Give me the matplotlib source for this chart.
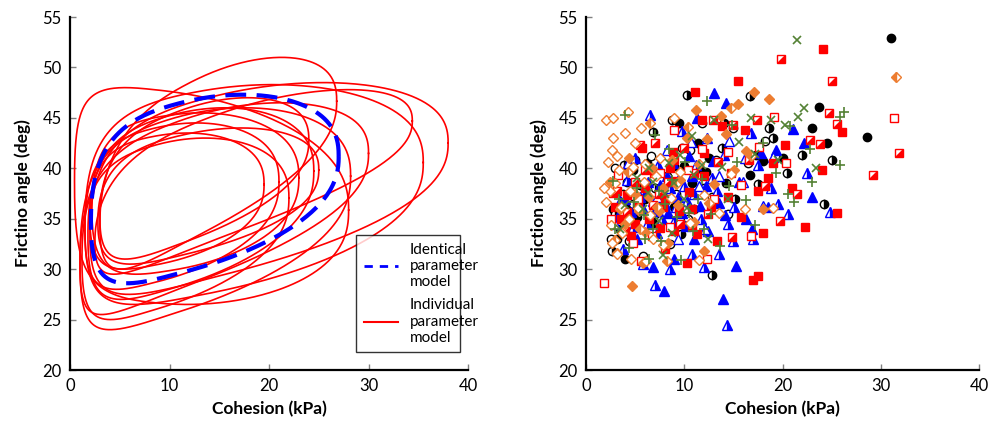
import numpy as np
import matplotlib
matplotlib.use("Agg")
import matplotlib.pyplot as plt
from matplotlib.lines import Line2D

plt.rcParams['font.family'] = ['Lato', 'DejaVu Sans']

# ---- left panel: contour parameters (cohesion range, friction range, correlation)
ident_cmin, ident_cmax, ident_pmin, ident_pmax, ident_rho = 2.1, 27.0, 28.6, 47.3, 0.36

ind_cmin = [2.0, 1.5, 2.5, 3.0, 1.0, 0.45, 1.5, 2.2, 1.8, 2.8, 1.2, 2.0, 1.0, 3.0]
ind_cmax = [38.0, 35.5, 34.4, 26.8, 28.2, 28.0, 21.0, 23.0, 24.5, 25.0, 22.0, 19.5, 30.0, 24.0]
ind_pmin = [27.5, 26.5, 29.5, 30.0, 24.0, 26.5, 28.0, 29.5, 27.0, 30.5, 25.0, 30.0, 25.5, 31.0]
ind_pmax = [48.5, 48.3, 47.8, 51.0, 46.0, 48.0, 44.5, 45.5, 46.0, 44.0, 43.0, 43.5, 46.5, 47.0]
ind_rho = [0.45, 0.3, 0.7, 0.62, 0.4, -0.13, 0.3, 0.2, 0.35, 0.4, 0.35, 0.25, 0.55, 0.5]

# ---- right panel: measured cohesion / friction angle pairs
blk_fill_c = [31.0, 28.6, 23.7, 23.0, 24.5, 17.3, 12.5, 10.0, 8.5, 6.0, 4.5, 3.5, 9.5, 7.3, 5.2, 11.4, 14.2, 16.7, 18.0, 6.8, 3.2, 2.8, 9.0, 12.2, 20.0, 4.0, 5.5, 7.8, 10.8, 4.8]
blk_fill_p = [52.9, 43.1, 46.1, 44.0, 42.5, 41.3, 41.0, 40.2, 38.5, 37.0, 36.2, 34.0, 44.5, 39.6, 35.2, 42.5, 38.5, 39.3, 40.7, 34.6, 33.0, 36.0, 36.2, 39.6, 41.0, 31.0, 36.4, 37.8, 38.5, 39.8]
blk_half_c = [16.7, 25.0, 19.0, 10.3, 8.8, 6.8, 11.5, 15.2, 17.5, 13.8, 3.9, 3.0, 5.5, 7.8, 9.7, 12.8, 22.0, 24.2, 18.6, 4.4, 6.2, 14.0, 11.0, 2.6, 20.5, 7.0, 9.0, 4.8]
blk_half_p = [47.2, 40.8, 43.0, 47.3, 44.8, 43.6, 40.0, 37.0, 38.4, 42.0, 40.3, 35.5, 38.3, 36.8, 33.5, 29.4, 41.3, 36.5, 44.0, 32.8, 40.5, 44.5, 36.0, 31.8, 39.5, 38.0, 40.2, 36.5]
blk_open_c = [4.2, 5.0, 8.2, 9.8, 10.6, 12.0, 13.2, 15.0, 6.6, 3.8, 2.5, 7.0, 8.6, 11.8, 16.5, 18.2, 5.8, 3.0, 9.2, 14.5, 6.2, 10.4, 12.8]
blk_open_p = [38.6, 40.8, 39.2, 42.0, 41.8, 38.0, 40.8, 44.0, 41.2, 37.5, 33.0, 35.5, 32.5, 44.5, 40.5, 42.7, 31.3, 40.0, 37.5, 35.5, 37.3, 35.0, 37.2]

blu_fill_c = [13.0, 14.2, 21.1, 13.9, 7.9, 15.3, 6.0, 7.5, 8.3, 9.4, 10.2, 11.6, 12.4, 14.1, 15.6, 16.3, 17.8, 18.5, 4.6, 5.2, 3.3, 10.8, 12.9, 9.0, 6.8, 19.3, 22.2, 23.0, 11.3, 8.9, 16.9, 7.2, 4.0, 5.8, 7.0, 9.8, 11.0, 12.2, 13.5, 8.2, 10.5]
blu_fill_p = [47.5, 46.5, 43.9, 27.0, 27.8, 30.3, 37.5, 38.3, 35.6, 37.2, 34.3, 36.3, 33.8, 35.4, 38.6, 35.0, 41.5, 36.2, 35.7, 33.0, 35.3, 39.2, 40.7, 31.0, 30.2, 41.8, 42.5, 37.2, 45.0, 40.5, 34.0, 33.6, 37.0, 36.0, 35.8, 35.6, 33.0, 38.2, 36.6, 39.2, 41.2]
blu_half_c = [14.3, 7.0, 6.5, 5.0, 7.3, 9.8, 12.3, 14.0, 16.2, 17.5, 18.8, 20.6, 22.5, 24.8, 6.2, 8.0, 9.0, 10.3, 11.7, 13.3, 15.1, 10.8, 12.0, 13.5, 15.0, 17.0, 3.5, 4.8, 2.8, 3.8, 6.3, 9.5, 11.2, 19.5, 16.8, 8.5, 5.8, 5.5, 7.7, 9.2, 10.0, 11.0, 12.8, 14.5, 8.6, 6.8, 4.2]
blu_half_p = [24.5, 28.4, 45.3, 41.0, 40.3, 43.7, 43.0, 41.3, 41.0, 40.3, 38.0, 35.5, 39.5, 35.7, 34.5, 36.5, 34.8, 36.8, 35.0, 37.8, 36.2, 31.5, 30.2, 31.5, 32.8, 33.0, 36.8, 34.2, 38.2, 32.0, 38.6, 39.0, 40.3, 36.5, 43.5, 30.0, 30.5, 37.2, 35.0, 36.2, 38.2, 37.5, 39.0, 34.5, 38.0, 36.8, 38.8]
blu_open_c = [4.3, 8.2, 10.7, 13.5, 12.1, 16.0, 19.0, 5.5, 7.2, 9.4, 18.0, 14.6, 3.0, 11.5]
blu_open_p = [40.5, 41.8, 42.6, 39.2, 34.0, 38.6, 41.1, 36.0, 37.2, 33.0, 36.3, 42.7, 34.5, 38.2]

red_fill_c = [24.1, 15.5, 11.1, 17.5, 17.0, 13.3, 18.0, 22.3, 25.5, 21.0, 24.0, 19.0, 14.8, 12.0, 13.8, 16.2, 9.2, 10.5, 8.0, 6.4, 5.3, 4.2, 3.6, 7.5, 9.5, 11.3, 12.7, 14.5, 17.5, 6.9, 5.7, 8.9, 20.2, 26.0, 15.8, 10.3, 4.6, 2.8, 18.5, 11.8, 6.0, 7.8, 9.0, 10.8, 12.0, 5.0, 3.0, 8.5]
red_fill_p = [51.8, 48.7, 47.6, 29.3, 28.9, 32.8, 33.6, 34.2, 35.6, 38.0, 39.8, 40.5, 39.5, 41.5, 44.2, 43.8, 38.7, 37.7, 37.0, 35.0, 36.5, 37.4, 35.0, 34.1, 35.8, 33.5, 36.2, 37.2, 37.8, 39.5, 42.0, 41.6, 42.3, 43.6, 35.2, 30.6, 33.3, 37.6, 39.0, 44.8, 38.0, 36.2, 33.8, 36.0, 39.2, 34.5, 36.2, 40.0]
red_half_c = [19.8, 25.0, 24.7, 25.5, 31.8, 29.2, 22.8, 17.4, 15.0, 12.9, 10.0, 7.0, 5.5, 6.0, 8.3, 11.0, 13.4, 16.6, 18.2, 21.5, 3.2, 4.2, 6.8, 9.6, 12.4, 14.9, 8.0, 5.6, 19.7, 23.8, 7.4, 5.0, 9.0, 10.8, 4.0]
red_half_p = [50.8, 48.7, 45.5, 44.4, 41.5, 39.3, 42.8, 44.8, 44.3, 44.8, 42.0, 42.5, 42.3, 39.8, 38.6, 39.5, 40.6, 40.8, 38.2, 37.5, 37.8, 35.7, 36.4, 34.5, 35.5, 33.2, 32.0, 30.8, 34.8, 42.4, 37.5, 38.6, 40.8, 34.3, 33.8]
red_open_c = [1.8, 31.3, 19.1, 17.6, 14.4, 11.8, 9.0, 7.5, 5.3, 3.3, 2.5, 4.8, 8.6, 10.4, 13.0, 15.8, 16.8, 6.7, 12.3, 20.4]
red_open_p = [28.6, 45.0, 45.1, 42.1, 41.6, 41.9, 43.8, 39.5, 37.0, 39.3, 35.0, 32.6, 34.2, 39.8, 37.0, 38.3, 33.3, 33.3, 31.0, 40.5]

org_fill_c = [4.7, 11.2, 12.3, 13.7, 15.5, 17.1, 18.6, 8.8, 6.7, 5.0, 3.5, 4.0, 6.0, 7.4, 9.4, 11.0, 13.0, 15.1, 16.3, 14.2, 10.3, 8.3, 3.2, 5.8, 12.0, 2.4, 7.8, 18.0, 5.4, 6.4, 9.6, 4.4]
org_fill_p = [28.3, 45.8, 42.9, 45.2, 46.4, 47.6, 46.9, 40.8, 40.0, 37.5, 36.0, 34.5, 33.7, 35.8, 36.4, 34.7, 38.4, 39.8, 41.7, 43.4, 43.0, 32.6, 31.6, 30.6, 31.8, 38.6, 38.0, 36.0, 35.8, 37.2, 38.8, 41.0]
org_half_c = [31.5, 6.5, 10.4, 14.8, 9.2, 4.3, 7.2, 5.5, 3.0, 12.5, 16.8, 8.2, 11.5]
org_half_p = [49.1, 44.5, 44.1, 46.0, 38.4, 39.6, 36.2, 34.0, 32.9, 36.6, 41.2, 30.8, 40.4]
org_open_c = [2.0, 2.8, 4.3, 3.2, 2.6, 2.2, 4.8, 6.0, 7.5, 9.6, 3.0, 2.4, 2.0, 3.6, 4.5, 5.9, 7.1, 2.5, 3.7, 4.4, 5.3, 6.5, 8.7, 3.2, 4.6, 6.1, 7.8, 10.6, 12.0, 13.5, 16.2, 19.0, 11.5, 2.8, 5.0, 9.0, 14.8, 3.4, 1.8, 4.0, 5.6, 6.8, 2.6]
org_open_p = [44.8, 45.0, 45.6, 41.2, 41.8, 40.6, 40.1, 40.4, 41.0, 39.6, 38.5, 37.8, 36.7, 36.2, 37.8, 38.6, 39.2, 34.4, 33.6, 35.0, 36.1, 35.4, 37.1, 31.5, 31.0, 30.8, 32.4, 34.6, 37.4, 35.6, 36.0, 36.1, 30.9, 43.0, 42.5, 45.0, 39.4, 39.8, 38.0, 43.5, 44.0, 33.0, 32.6]

grn_plus_c = [12.3, 25.8, 20.8, 22.8, 25.8, 26.3, 14.9, 18.0, 17.2, 20.6, 21.2, 23.0, 4.0, 7.0, 8.4, 10.1, 11.8, 12.7, 14.6, 16.3, 2.8, 3.4, 4.9, 5.9, 6.8, 8.0, 9.3, 10.9, 3.0, 4.4, 6.4, 7.6, 13.6, 15.4, 19.3, 11.4, 9.7, 5.2, 7.4, 8.8, 10.5, 6.0, 12.0]
grn_plus_p = [46.7, 45.1, 44.2, 41.9, 40.3, 45.6, 44.3, 42.5, 34.4, 37.5, 36.7, 38.6, 45.3, 43.3, 41.9, 40.6, 38.9, 35.5, 38.2, 36.9, 38.7, 37.0, 36.7, 35.4, 34.0, 36.5, 35.2, 33.8, 34.0, 32.1, 31.0, 32.8, 32.3, 40.6, 39.5, 37.0, 30.9, 38.0, 37.8, 38.8, 35.6, 33.0, 34.0]
grn_x_c = [21.5, 22.2, 21.6, 20.3, 18.8, 16.8, 13.0, 10.8, 9.6, 8.4, 6.4, 5.2, 4.0, 5.8, 7.4, 8.8, 10.3, 11.8, 13.8, 15.6, 17.2, 19.5, 23.4, 3.5, 7.8, 12.4, 9.0, 6.3, 6.8, 8.0, 10.0, 11.0, 14.5]
grn_x_p = [52.7, 46.0, 45.1, 44.3, 44.8, 45.0, 44.8, 43.2, 41.3, 40.5, 40.0, 39.0, 36.4, 36.0, 34.8, 33.6, 36.1, 40.3, 40.1, 42.6, 41.4, 40.8, 40.0, 34.0, 31.4, 33.0, 38.5, 37.6, 38.6, 37.5, 37.0, 39.3, 37.0]

x_ticks = [0, 10, 20, 30, 40]
y_ticks = [20, 25, 30, 35, 40, 45, 50, 55]


def contour(cmin, cmax, pmin, pmax, rho, k=2.2, n=2.4):
    # closed contour drawn in a power-transformed cohesion space
    t = np.linspace(0, 2 * np.pi, 500)
    x = np.sign(np.cos(t)) * np.abs(np.cos(t)) ** (2 / n)
    y = np.sign(np.sin(t)) * np.abs(np.sin(t)) ** (2 / n)
    lo, hi = cmin ** (1 / k), cmax ** (1 / k)
    v0, av = (lo + hi) / 2, (hi - lo) / 2
    p0, ap = (pmin + pmax) / 2, (pmax - pmin) / 2
    yy = rho * x + np.sqrt(1 - rho ** 2) * y
    yy = yy / np.abs(yy).max()
    c = (v0 + av * x) ** k
    p = p0 + ap * yy
    return c, p


def style_axes(ax, ylabel):
    ax.set_xlim(0, 40)
    ax.set_ylim(20, 55)
    ax.set_xticks(x_ticks)
    ax.set_yticks(y_ticks)
    for s in ['top', 'right']:
        ax.spines[s].set_visible(False)
    for s in ['left', 'bottom']:
        ax.spines[s].set_linewidth(1.6)
    ax.tick_params(direction='in', length=4, width=1, color='#808080', labelsize=12, pad=6)
    ax.set_xlabel('Cohesion (kPa)', fontsize=12.5, fontweight='bold', labelpad=5)
    ax.set_ylabel(ylabel, fontsize=12.5, fontweight='bold', labelpad=8)


fig = plt.figure(figsize=(9.92, 4.37), dpi=100)
ax1 = fig.add_axes([0.0706, 0.1533, 0.4012, 0.8077])
ax2 = fig.add_axes([0.5907, 0.1533, 0.3963, 0.8077])

for i in range(len(ind_cmin)):
    c, p = contour(ind_cmin[i], ind_cmax[i], ind_pmin[i], ind_pmax[i], ind_rho[i])
    ax1.plot(c, p, color='#ff0000', lw=1.2)
c, p = contour(ident_cmin, ident_cmax, ident_pmin, ident_pmax, ident_rho)
ax1.plot(c, p, color='#0000ff', lw=3, dashes=(5, 2.5), zorder=5)

handles = [Line2D([], [], color='#0000ff', lw=2, dashes=(3, 2.5)),
           Line2D([], [], color='#ff0000', lw=1.5)]
leg = ax1.legend(handles, ['Identical\nparameter\nmodel', 'Individual\nparameter\nmodel'],
                 loc='lower left', bbox_to_anchor=(0.70, 0.028, 0.30, 0.34), mode='expand',
                 fontsize=11, frameon=True, fancybox=False, edgecolor='black',
                 handlelength=2.2, handletextpad=0.8, labelspacing=0.6, borderpad=0.5)
leg.get_frame().set_linewidth(1.0)
style_axes(ax1, 'Frictino angle (deg)')

ms = 6
mew = 1.0
ax2.plot(blk_fill_c, blk_fill_p, 'o', ls='none', color='black', ms=ms, mew=mew)
ax2.plot(blk_half_c, blk_half_p, 'o', ls='none', color='black', mfc='black', mfcalt='white',
         fillstyle='right', ms=ms, mew=mew)
ax2.plot(blk_open_c, blk_open_p, 'o', ls='none', color='black', mfc='white', ms=ms, mew=mew)

ax2.plot(blu_fill_c, blu_fill_p, '^', ls='none', color='#0000ff', ms=ms + 0.5, mew=mew)
ax2.plot(blu_half_c, blu_half_p, '^', ls='none', color='#0000ff', mfcalt='white',
         fillstyle='right', ms=ms + 0.5, mew=mew)
ax2.plot(blu_open_c, blu_open_p, '^', ls='none', color='#0000ff', mfc='white', ms=ms + 0.5, mew=mew)

ax2.plot(red_fill_c, red_fill_p, 's', ls='none', color='#ff0000', ms=ms, mew=mew)
ax2.plot(red_half_c, red_half_p, 's', ls='none', color='#ff0000', mfc='white', ms=ms, mew=mew)
ax2.plot(red_half_c, red_half_p, marker=[(-1, -1), (1, -1), (1, 1)], ls='none', color='#ff0000',
         ms=ms, mew=0)
ax2.plot(red_open_c, red_open_p, 's', ls='none', color='#ff0000', mfc='white', ms=ms, mew=mew)

ax2.plot(org_fill_c, org_fill_p, 'D', ls='none', color='#ed7d31', ms=ms - 0.5, mew=mew)
ax2.plot(org_half_c, org_half_p, 'D', ls='none', color='#ed7d31', mfcalt='white',
         fillstyle='left', ms=ms - 0.5, mew=mew)
ax2.plot(org_open_c, org_open_p, 'D', ls='none', color='#ed7d31', mfc='white', ms=ms - 0.5, mew=mew)

ax2.plot(grn_plus_c, grn_plus_p, '+', ls='none', color='#548235', ms=ms + 1.5, mew=1.2)
ax2.plot(grn_x_c, grn_x_p, 'x', ls='none', color='#548235', ms=ms, mew=1.2)

style_axes(ax2, 'Friction angle (deg)')

fig.savefig('out.png', dpi=100)
